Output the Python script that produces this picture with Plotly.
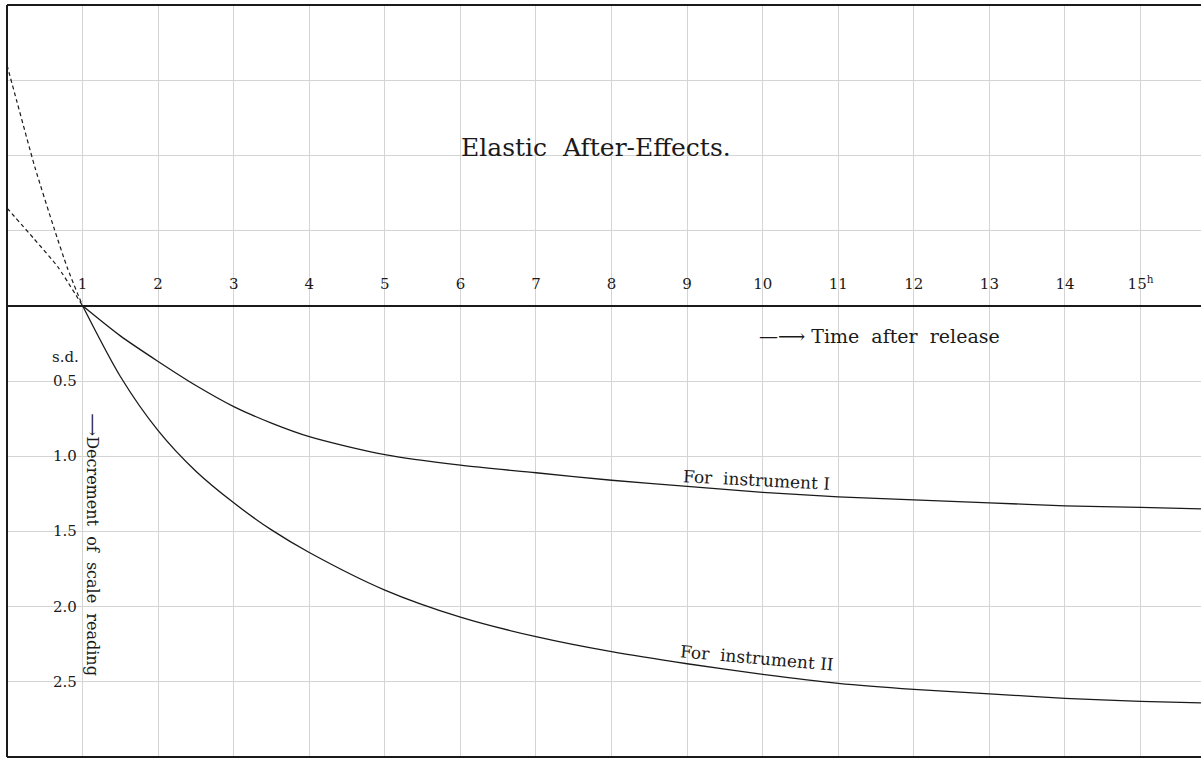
import plotly.graph_objects as go

# ---- data ----
hours = [1, 1.5, 2, 2.5, 3, 3.5, 4, 5, 6, 7, 8, 9, 10, 11, 12, 13, 14, 15, 15.8]
instrument_1 = [0, 0.20, 0.37, 0.53, 0.67, 0.78, 0.87, 0.99, 1.06, 1.11, 1.16, 1.20, 1.24, 1.27, 1.29, 1.31, 1.33, 1.34, 1.35]
instrument_2 = [0, 0.47, 0.83, 1.10, 1.31, 1.49, 1.64, 1.89, 2.07, 2.20, 2.30, 2.38, 2.45, 2.51, 2.55, 2.58, 2.61, 2.63, 2.64]

# dashed extrapolations back to time 0
extrap_hours_1 = [0, 0.35, 0.67, 1]
extrap_1 = [-0.65, -0.45, -0.26, 0]
extrap_hours_2 = [0, 0.13, 0.37, 0.62, 0.8, 1]
extrap_2 = [-1.6, -1.36, -0.92, -0.52, -0.25, 0]

x_tick_vals = list(range(1, 16))
x_tick_text = [str(v) for v in range(1, 15)] + ["15<sup>h</sup>"]
y_grid_vals = [-2, -1.5, -1, -0.5, 0, 0.5, 1, 1.5, 2, 2.5, 3]
y_label_vals = [0.5, 1.0, 1.5, 2.0, 2.5]
y_label_text = ["0.5", "1.0", "1.5", "2.0", "2.5"]

FONT = "DejaVu Serif"
INK = "#1a1a1a"

fig = go.Figure()
line_style = dict(color=INK, width=1.3, shape="spline", smoothing=0.8)
fig.add_trace(go.Scatter(x=hours, y=instrument_1, mode="lines", line=line_style, name="For instrument I"))
fig.add_trace(go.Scatter(x=hours, y=instrument_2, mode="lines", line=line_style, name="For instrument II"))
dash_style = dict(color=INK, width=1.2, dash="4px,3px", shape="spline", smoothing=0.6)
fig.add_trace(go.Scatter(x=extrap_hours_1, y=extrap_1, mode="lines", line=dash_style))
fig.add_trace(go.Scatter(x=extrap_hours_2, y=extrap_2, mode="lines", line=dash_style))

annotations = []
for v, t in zip(y_label_vals, y_label_text):
    annotations.append(dict(x=0.77, y=v, text=t, showarrow=False, xanchor="center", yanchor="middle",
                            font=dict(family=FONT, size=15, color=INK)))
annotations += [
    dict(x=0.77, y=0.34, text="s.d.", showarrow=False, font=dict(family=FONT, size=15, color=INK)),
    dict(x=7.8, y=-1.05, text="Elastic  After-Effects.", showarrow=False, yanchor="middle",
         font=dict(family=FONT, size=25, color=INK)),
    dict(x=9.92, y=0.2, text="—⟶ Time  after  release", showarrow=False, xanchor="left",
         font=dict(family=FONT, size=19, color=INK)),
    dict(x=1.12, y=1.59, text="⟶Decrement  of  scale  reading", showarrow=False, textangle=90,
         font=dict(family=FONT, size=16, color=INK)),
    dict(x=9.92, y=1.16, text="For  instrument I", showarrow=False, textangle=3,
         font=dict(family=FONT, size=17, color=INK)),
    dict(x=9.93, y=2.34, text="For  instrument II", showarrow=False, textangle=5,
         font=dict(family=FONT, size=17, color=INK)),
]

fig.update_layout(
    width=1201, height=760,
    margin=dict(l=7, r=0, t=5, b=3),
    paper_bgcolor="white", plot_bgcolor="white",
    showlegend=False,
    annotations=annotations,
    xaxis=dict(range=[0, 15.8], tickvals=x_tick_vals, ticktext=x_tick_text,
               showgrid=True, gridcolor="#d4d4d4", gridwidth=1,
               anchor="free", position=0.6, side="top",
               showline=True, linecolor=INK, linewidth=2,
               ticks="outside", ticklen=10, tickcolor="rgba(0,0,0,0)",
               tickfont=dict(family=FONT, size=15, color=INK), zeroline=False),
    yaxis=dict(range=[3, -2], tickvals=y_grid_vals, showticklabels=False,
               showgrid=True, gridcolor="#d4d4d4", gridwidth=1, zeroline=False),
    shapes=[
        dict(type="line", xref="paper", yref="paper", x0=0, x1=0, y0=0, y1=1, line=dict(color=INK, width=2)),
        dict(type="line", xref="paper", yref="paper", x0=0, x1=1, y0=1, y1=1, line=dict(color=INK, width=2)),
        dict(type="line", xref="paper", yref="paper", x0=0, x1=1, y0=0, y1=0, line=dict(color=INK, width=2)),
    ],
)

fig.write_html("out.html")
